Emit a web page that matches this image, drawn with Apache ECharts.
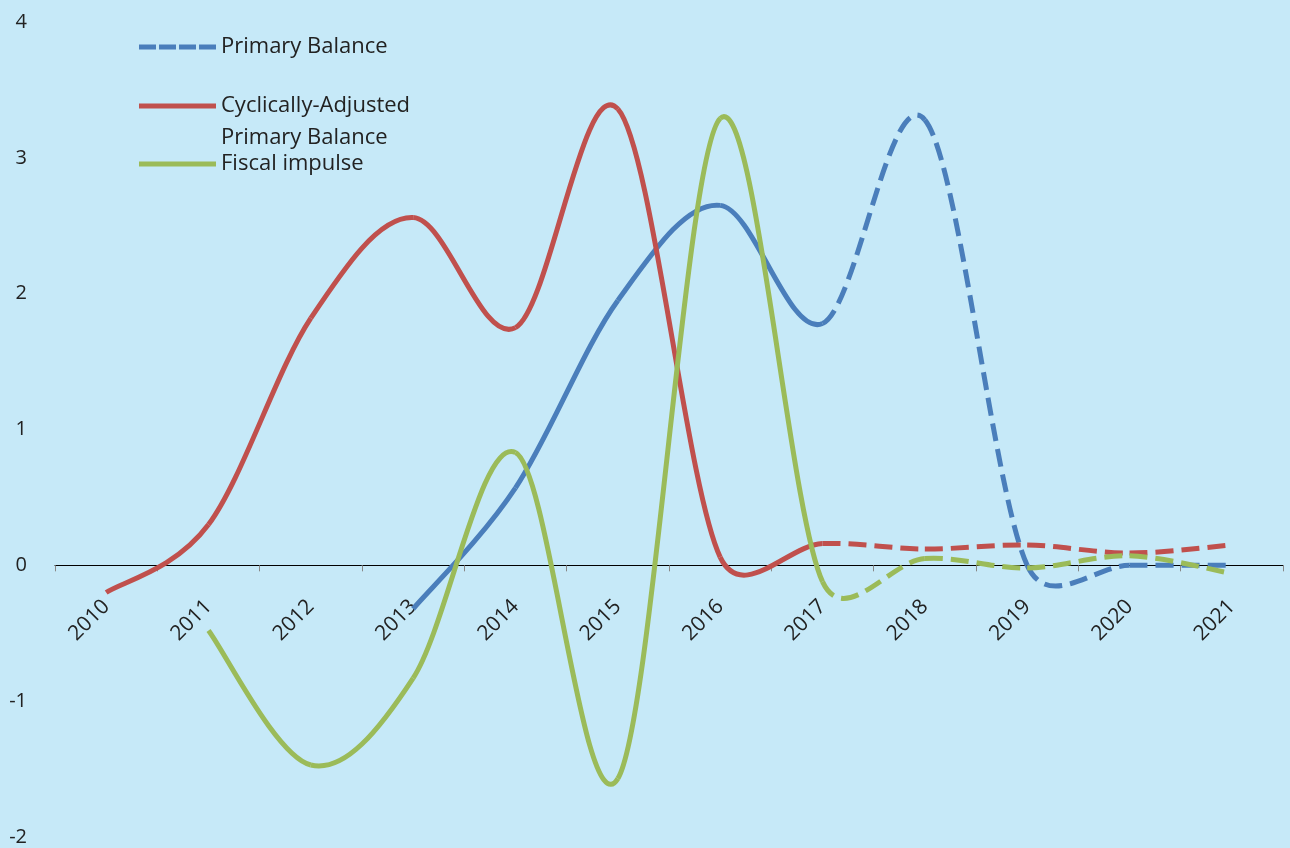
<!DOCTYPE html>
<html>
<head>
<meta charset="utf-8">
<script src="https://cdn.jsdelivr.net/npm/echarts@6/dist/echarts.min.js"></script>
<style>
  html, body { margin: 0; padding: 0; background: #C6E9F8; }
  #chart { width: 1290px; height: 848px; }
</style>
</head>
<body>
<div id="chart"></div>
<script>
// Years on the horizontal axis
const years = ['2010', '2011', '2012', '2013', '2014', '2015', '2016', '2017', '2018', '2019', '2020', '2021'];

// Values in percent; null where a series has no data
const primaryBalance = [null, null, null, -0.32, 0.57, 1.95, 2.65, 1.78, 3.28, 0.0, 0.0, 0.0];
const cyclicallyAdjusted = [-0.2, 0.30, 1.82, 2.56, 1.75, 3.36, 0.06, 0.16, 0.12, 0.15, 0.09, 0.15];
const fiscalImpulse = [null, -0.48, -1.47, -0.83, 0.83, -1.57, 3.29, -0.12, 0.05, -0.02, 0.07, -0.06];

// Segments starting at this year are projections (dashed)
const projectionStart = '2017';

// Y-axis ticks
const yTicks = [-2, -1, 0, 1, 2, 3, 4];

const startIdx = years.indexOf(projectionStart);
const BLUE = '#4A7EBB', RED = '#C0504D', GREEN = '#9BBB59';
const FONT = '"Open Sans", sans-serif';
const DASH = [18, 8];
const LINE_W = 5;

// Plot area
const GRID = { left: 55, right: 7, top: 22, bottom: 11 };
const yMin = yTicks[0], yMax = yTicks[yTicks.length - 1];
const plotH = 848 - GRID.top - GRID.bottom;
// The year axis sits on the zero line: a second grid whose bottom edge is y = 0
const zeroBottom = GRID.bottom + plotH * (0 - yMin) / (yMax - yMin);

// [categoryIndex, value] pairs for the non-empty points of a series
const toPoints = arr => arr.map((v, i) => (v == null ? null : [i, v])).filter(p => p);

// Smoothed line drawn segment by segment (cubic Bezier, Catmull-Rom style
// tangents limited to half the segment length), dashed from the projection year on.
function smoothLine(name, values, color) {
  return {
    name: name,
    type: 'custom',
    coordinateSystem: 'cartesian2d',
    xAxisIndex: 0,
    yAxisIndex: 0,
    data: toPoints(values),
    encode: { x: 0, y: 1 },
    itemStyle: { color: color },
    silent: true,
    z: 3,
    renderItem: function (params, api) {
      const k = params.dataIndexInside;
      const n = params.dataInsideLength;
      if (k >= n - 1) return null;
      const pt = j => api.coord([api.value(0, j), api.value(1, j)]);
      const p1 = pt(k), p2 = pt(k + 1);
      const p0 = k > 0 ? pt(k - 1) : p1;
      const p3 = k + 2 < n ? pt(k + 2) : p2;
      const segLen = Math.hypot(p2[0] - p1[0], p2[1] - p1[1]);
      const tangent = (a, b) => {
        let tx = (b[0] - a[0]) / 6, ty = (b[1] - a[1]) / 6;
        const len = Math.hypot(tx, ty);
        const cap = segLen * 0.5;
        if (len > cap && len > 0) { tx *= cap / len; ty *= cap / len; }
        return [tx, ty];
      };
      const t1 = tangent(p0, p2), t2 = tangent(p1, p3);
      const dashed = api.value(0, k) >= startIdx;
      return {
        type: 'bezierCurve',
        shape: {
          x1: p1[0], y1: p1[1],
          cpx1: p1[0] + t1[0], cpy1: p1[1] + t1[1],
          cpx2: p2[0] - t2[0], cpy2: p2[1] - t2[1],
          x2: p2[0], y2: p2[1]
        },
        style: {
          fill: null,
          stroke: color,
          lineWidth: LINE_W,
          lineDash: dashed ? DASH : null,
          lineCap: 'butt'
        }
      };
    }
  };
}

const DASHED_ICON = 'path://M0,0h17v5h-17z M20,0h17v5h-17z M40,0h17v5h-17z M60,0h17v5h-17z';
const SOLID_ICON = 'path://M0,0h77v5h-77z';

const legendBase = {
  orient: 'vertical',
  left: 139,
  padding: 0,
  itemWidth: 77,
  itemHeight: 5,
  itemGap: 0,
  selectedMode: false,
  textStyle: { fontFamily: FONT, fontSize: 22, color: '#222', lineHeight: 28 }
};

const axisFont = { fontFamily: FONT, fontSize: 20, color: '#222' };

const chart = echarts.init(document.getElementById('chart'), null, { renderer: 'canvas' });
chart.setOption({
  backgroundColor: '#C6E9F8',
  animation: false,
  grid: [
    Object.assign({ containLabel: false, outerBoundsMode: 'none' }, GRID),
    { left: GRID.left, right: GRID.right, top: GRID.top, bottom: zeroBottom, containLabel: false, outerBoundsMode: 'none' }
  ],
  legend: [
    Object.assign({}, legendBase, {
      top: 33,
      data: [{ name: 'Primary Balance', icon: DASHED_ICON }]
    }),
    Object.assign({}, legendBase, {
      top: 58,
      data: [{ name: 'Cyclically-Adjusted Primary Balance', icon: SOLID_ICON }],
      formatter: () => ' \nCyclically-Adjusted\nPrimary Balance',
      textStyle: Object.assign({}, legendBase.textStyle, { lineHeight: 32 })
    }),
    Object.assign({}, legendBase, {
      top: 150,
      data: [{ name: 'Fiscal impulse', icon: SOLID_ICON }]
    })
  ],
  xAxis: [
    {
      gridIndex: 0,
      type: 'category',
      data: years,
      boundaryGap: true,
      show: false
    },
    {
      gridIndex: 1,
      type: 'category',
      data: years,
      boundaryGap: true,
      position: 'bottom',
      axisLine: { onZero: false, lineStyle: { color: '#000', width: 1 } },
      axisTick: { show: true, alignWithLabel: false, length: 6, lineStyle: { color: '#888' } },
      axisLabel: Object.assign({ interval: 0, rotate: 45, margin: 38 }, axisFont, { fontSize: 21 }),
      splitLine: { show: false }
    }
  ],
  yAxis: [
    {
      gridIndex: 0,
      type: 'value',
      min: yMin,
      max: yMax,
      interval: 1,
      axisLine: { show: false },
      axisTick: { show: false },
      splitLine: { show: false },
      axisLabel: Object.assign({ margin: 28 }, axisFont)
    },
    {
      gridIndex: 1,
      type: 'value',
      min: 0,
      max: 1,
      show: false
    }
  ],
  series: [
    smoothLine('Primary Balance', primaryBalance, BLUE),
    smoothLine('Cyclically-Adjusted Primary Balance', cyclicallyAdjusted, RED),
    smoothLine('Fiscal impulse', fiscalImpulse, GREEN)
  ]
});
</script>
</body>
</html>
